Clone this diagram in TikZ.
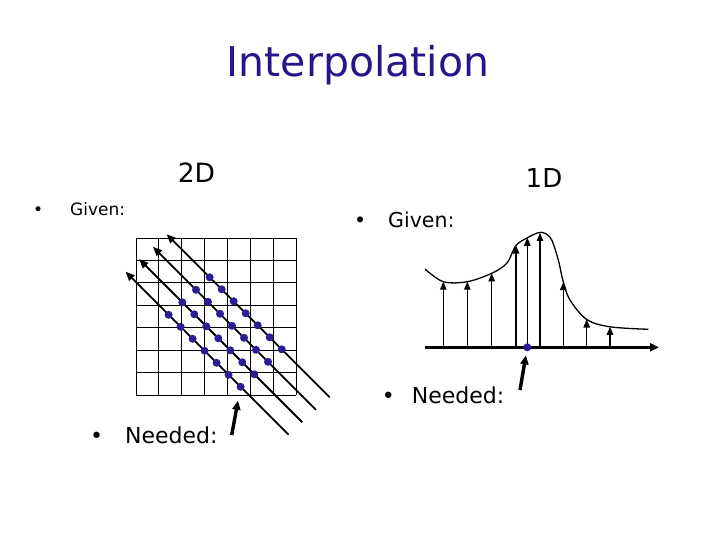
\documentclass[tikz,border=0pt]{standalone}
\usepackage{fontspec}
\setmainfont{DejaVu Sans}
\definecolor{TitleBlue}{HTML}{26168C}
\definecolor{DotBlue}{HTML}{2A1E96}
\usepackage{tikz}
\usetikzlibrary{arrows.meta}

\begin{document}
\begin{tikzpicture}[x=1pt,y=-1pt,
    gridline/.style={line width=0.8pt},
    ray/.style={line width=1.8pt,-{Triangle[length=9pt,width=7.5pt]}},
    sample/.style={line width=1.1pt,-{Triangle[length=8pt,width=6.5pt]}},
    axisline/.style={line width=3pt,-{Triangle[length=9pt,width=8pt]}},
    needed/.style={line width=3.4pt,-{Triangle[length=9pt,width=8pt]}},
    gridpt/.style={circle,fill=DotBlue,inner sep=0pt,minimum size=8pt},
    bullettext/.style={anchor=base west,inner sep=0pt}]

  \useasboundingbox (0,0) rectangle (720,540);

  % title and headings
  \node[text=TitleBlue,font=\fontsize{41}{44}\selectfont,anchor=base] (title) at (358,77) {Interpolation};
  \node[font=\fontsize{26.5}{30}\selectfont,anchor=base] (head2d) at (196.5,183) {2D};
  \node[font=\fontsize{26}{30}\selectfont,anchor=base] (head1d) at (544,188) {1D};

  % 2D: grid
  \foreach \i in {0,...,7} {
    \draw[gridline] ({136+\i*160/7},238) -- ({136+\i*160/7},395);
    \draw[gridline] (136,{238+\i*157/7}) -- (296,{238+\i*157/7});
  }

  % 2D: rays with their samples
  \foreach \k in {0,...,3} {
    \coordinate (tail\k) at ({209.7-13.7*\k+120},{277.3+12.5*\k+120});
    \coordinate (tip\k) at ({209.7-13.7*\k-43},{277.3+12.5*\k-43});
    \draw[ray] (tail\k) -- (tip\k);
    \foreach \j in {0,...,6}
      \node[gridpt] (p\k\j) at ({209.7-13.7*\k+12*\j},{277.3+12.5*\k+12*\j}) {};
  }
  \coordinate (need2d) at (231.7,435);
  \draw[needed,shorten >=10pt] (need2d) -- (p36);

  % 1D: curve and samples
  \draw[line width=1.3pt] plot[smooth,tension=0.55] coordinates {
    (425,269) (443.3,281.7) (467.3,281.7) (491.7,273.3) (506.7,263.3)
    (516,245.5) (527.3,237.8) (538.3,232.7) (545,233.3) (551.7,240)
    (558.3,260) (563.3,282) (570,300) (586.7,319.5) (610,326.8) (648.3,329.3)};
  \coordinate (axL) at (425,347.3);
  \coordinate (axR) at (659,347.3);
  \draw[axisline] (axL) -- (axR);
  \foreach \x/\y [count=\n] in {443.3/281.7, 467.3/281.7, 491.7/273.3,
      516/245.5, 527.3/237.8, 540/232.9, 563.3/282, 586.7/319.5, 610/326.8} {
    \coordinate (s\n) at (\x,347.3);
    \coordinate (c\n) at (\x,\y);
    \draw[sample] (s\n) -- (c\n);
  }
  \node[gridpt] (q) at (527.3,347.3) {};
  \coordinate (need1d) at (520,390);
  \draw[needed,shorten >=4pt] (need1d) -- (q);

  % bullet texts
  \node[bullettext,font=\fontsize{17}{20}\selectfont] (given2d) at (70,215) {\llap{\textbullet\hspace{27pt}}Given:};
  \node[bullettext,font=\fontsize{22}{26}\selectfont] (needed2d) at (125,443) {\llap{\textbullet\hspace{22pt}}Needed:};
  \node[bullettext,font=\fontsize{20.5}{24}\selectfont] (given1d) at (388,228) {\llap{\textbullet\hspace{22pt}}Given:};
  \node[bullettext,font=\fontsize{22}{26}\selectfont] (needed1d) at (411.7,403) {\llap{\textbullet\hspace{17pt}}Needed:};
\end{tikzpicture}
\end{document}
